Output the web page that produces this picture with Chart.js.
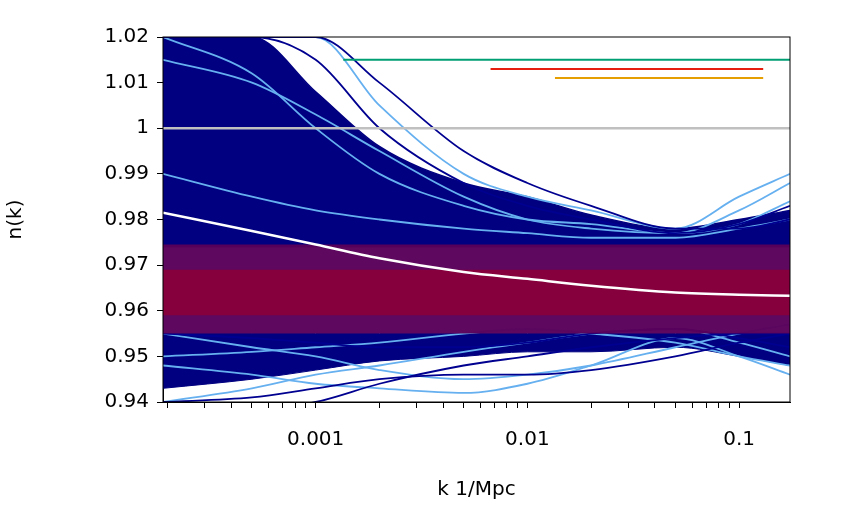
<!DOCTYPE html>
<html>
<head>
<meta charset="utf-8">
<script src="https://cdn.jsdelivr.net/npm/chart.js@4"></script>
<style>
  body { margin: 0; background: #fff; }
</style>
</head>
<body>
<canvas id="chart" width="843" height="506"></canvas>
<script>
// k values (1/Mpc) shared by all curves
const kGrid = [0.00019, 0.0005, 0.001, 0.002, 0.005, 0.01, 0.02, 0.05, 0.1, 0.174];

// fitted n(k) (white)
const bestFit = [0.9815, 0.9775, 0.9745, 0.9715, 0.9685, 0.967, 0.9655, 0.964, 0.9635, 0.9633];

// dense navy envelopes
const denseTop = [1.02, 1.02, 1.008, 0.996, 0.988, 0.985, 0.981, 0.978, 0.98, 0.982];
const denseTopLow = [0.974, 0.974, 0.974, 0.974, 0.974, 0.974, 0.974, 0.974, 0.974, 0.974];
const denseBot = [0.955, 0.955, 0.955, 0.955, 0.955, 0.955, 0.955, 0.955, 0.955, 0.955];
const denseBotLow = [0.943, 0.945, 0.947, 0.949, 0.95, 0.951, 0.951, 0.952, 0.95, 0.948];

// sample curves
const lightCurves = [
  [1.02, 1.02, 1.02, 1.005, 0.99, 0.985, 0.982, 0.978, 0.985, 0.99],
  [1.015, 1.01, 1.003, 0.995, 0.985, 0.98, 0.978, 0.977, 0.982, 0.988],
  [0.99, 0.985, 0.982, 0.98, 0.978, 0.977, 0.976, 0.976, 0.978, 0.98],
  [1.02, 1.012, 1.0, 0.99, 0.983, 0.98, 0.979, 0.977, 0.979, 0.984],
  [0.95, 0.951, 0.952, 0.953, 0.955, 0.956, 0.955, 0.953, 0.95, 0.948],
  [0.94, 0.943, 0.946, 0.948, 0.951, 0.953, 0.955, 0.956, 0.953, 0.95],
  [0.955, 0.952, 0.95, 0.947, 0.945, 0.946, 0.948, 0.952, 0.955, 0.957],
  [0.948, 0.946, 0.944, 0.943, 0.942, 0.944, 0.948, 0.954, 0.95, 0.946],
];
const navyCurves = [
  [1.02, 1.02, 1.02, 1.01, 0.995, 0.988, 0.983, 0.978, 0.978, 0.98],
  [1.02, 1.02, 1.015, 1.0, 0.988, 0.983, 0.98, 0.977, 0.979, 0.983],
  [0.94, 0.941, 0.943, 0.945, 0.946, 0.946, 0.947, 0.95, 0.953, 0.955],
  [0.935, 0.938, 0.94, 0.944, 0.948, 0.95, 0.952, 0.954, 0.955, 0.955],
  [0.955, 0.954, 0.953, 0.952, 0.952, 0.953, 0.955, 0.956, 0.954, 0.952],
];

// flat reference segments: [kStart, kEnd, n]
const segGreen = [0.00135, 0.174, 1.015];
const segRed = [0.0067, 0.13, 1.013];
const segOrange = [0.0135, 0.13, 1.011];

const pts = ys => kGrid.map((k, i) => ({ x: k, y: ys[i] }));
const seg = s => [{ x: s[0], y: s[2] }, { x: s[1], y: s[2] }];

const datasets = [];
datasets.push({ data: pts(denseTop), borderColor: '#000080', backgroundColor: '#000080', borderWidth: 1.5, fill: '+1', order: 20 });
datasets.push({ data: pts(denseTopLow), borderColor: '#000080', borderWidth: 1, fill: false, order: 20 });
datasets.push({ data: pts(denseBot), borderColor: '#000080', backgroundColor: '#000080', borderWidth: 1, fill: '+1', order: 20 });
datasets.push({ data: pts(denseBotLow), borderColor: '#000080', borderWidth: 1, fill: false, order: 20 });
lightCurves.forEach(c => datasets.push({ data: pts(c), borderColor: '#66b0f0', borderWidth: 1.8, fill: false, order: 15 }));
navyCurves.forEach(c => datasets.push({ data: pts(c), borderColor: '#000090', borderWidth: 1.8, fill: false, order: 14 }));
// bands
datasets.push({ data: [{ x: 0.00019, y: 0.9745 }, { x: 0.174, y: 0.9745 }], borderWidth: 0, backgroundColor: 'rgba(90,0,90,0.97)', fill: { value: 0.955 }, order: 8 });
datasets.push({ data: [{ x: 0.00019, y: 0.969 }, { x: 0.174, y: 0.969 }], borderWidth: 0, backgroundColor: 'rgba(135,0,60,0.97)', fill: { value: 0.959 }, order: 7 });
datasets.push({ data: pts(bestFit), borderColor: '#ffffff', borderWidth: 2.5, fill: false, order: 5 });
datasets.push({ data: [{ x: 0.00019, y: 1 }, { x: 0.174, y: 1 }], borderColor: '#c0c0c0', borderWidth: 2.5, fill: false, order: 4 });
datasets.push({ data: seg(segGreen), borderColor: '#009e73', borderWidth: 2, fill: false, order: 3 });
datasets.push({ data: seg(segRed), borderColor: '#e51e10', borderWidth: 2, fill: false, order: 3 });
datasets.push({ data: seg(segOrange), borderColor: '#e69f00', borderWidth: 2, fill: false, order: 3 });

const font = { family: 'DejaVu Sans', size: 20 };

new Chart(document.getElementById('chart'), {
  type: 'line',
  data: { datasets: datasets },
  options: {
    responsive: false,
    animation: false,
    devicePixelRatio: 1,
    layout: { padding: { top: 37, right: 53, left: 0, bottom: 0 } },
    elements: { point: { radius: 0 }, line: { cubicInterpolationMode: 'monotone' } },
    plugins: { legend: { display: false }, tooltip: { enabled: false } },
    scales: {
      x: {
        type: 'logarithmic', min: 0.00019, max: 0.174,
        grid: { display: true, drawOnChartArea: false, color: '#000', tickLength: 6 },
        border: { color: '#000' },
        afterBuildTicks: ax => {
          const t = [];
          [0.0001, 0.001, 0.01, 0.1].forEach(d => { for (let m = 1; m < 10; m++) { const v = d * m; if (v >= ax.min && v <= ax.max) t.push({ value: v }); } });
          ax.ticks = t;
        },
        ticks: {
          color: '#000', font: font, autoSkip: false, maxRotation: 0, padding: 20,
          callback: v => ({ 0.001: '0.001', 0.01: '0.01', 0.1: '0.1' })[Number(v.toPrecision(3))] || ''
        },
        title: { display: true, text: 'k 1/Mpc', color: '#000', font: font, padding: { top: 10 } },
        afterFit: ax => { ax.height = 104; }
      },
      y: {
        min: 0.94, max: 1.02,
        grid: { display: true, drawOnChartArea: false, color: '#000', tickLength: 6 },
        border: { color: '#000' },
        ticks: { stepSize: 0.01, color: '#000', font: font, padding: 8, callback: v => String(Number(v.toFixed(2))) },
        title: { display: true, text: 'n(k)', color: '#000', font: font, padding: { left: 20 } },
        afterFit: ax => { ax.width = 163; }
      }
    }
  },
  plugins: [{
    id: 'frame',
    afterDraw: ch => {
      const a = ch.chartArea, c = ch.ctx;
      c.save(); c.strokeStyle = '#000'; c.lineWidth = 1;
      c.strokeRect(a.left, a.top, a.right - a.left, a.bottom - a.top);
      c.restore();
    }
  }]
});
</script>
</body>
</html>
